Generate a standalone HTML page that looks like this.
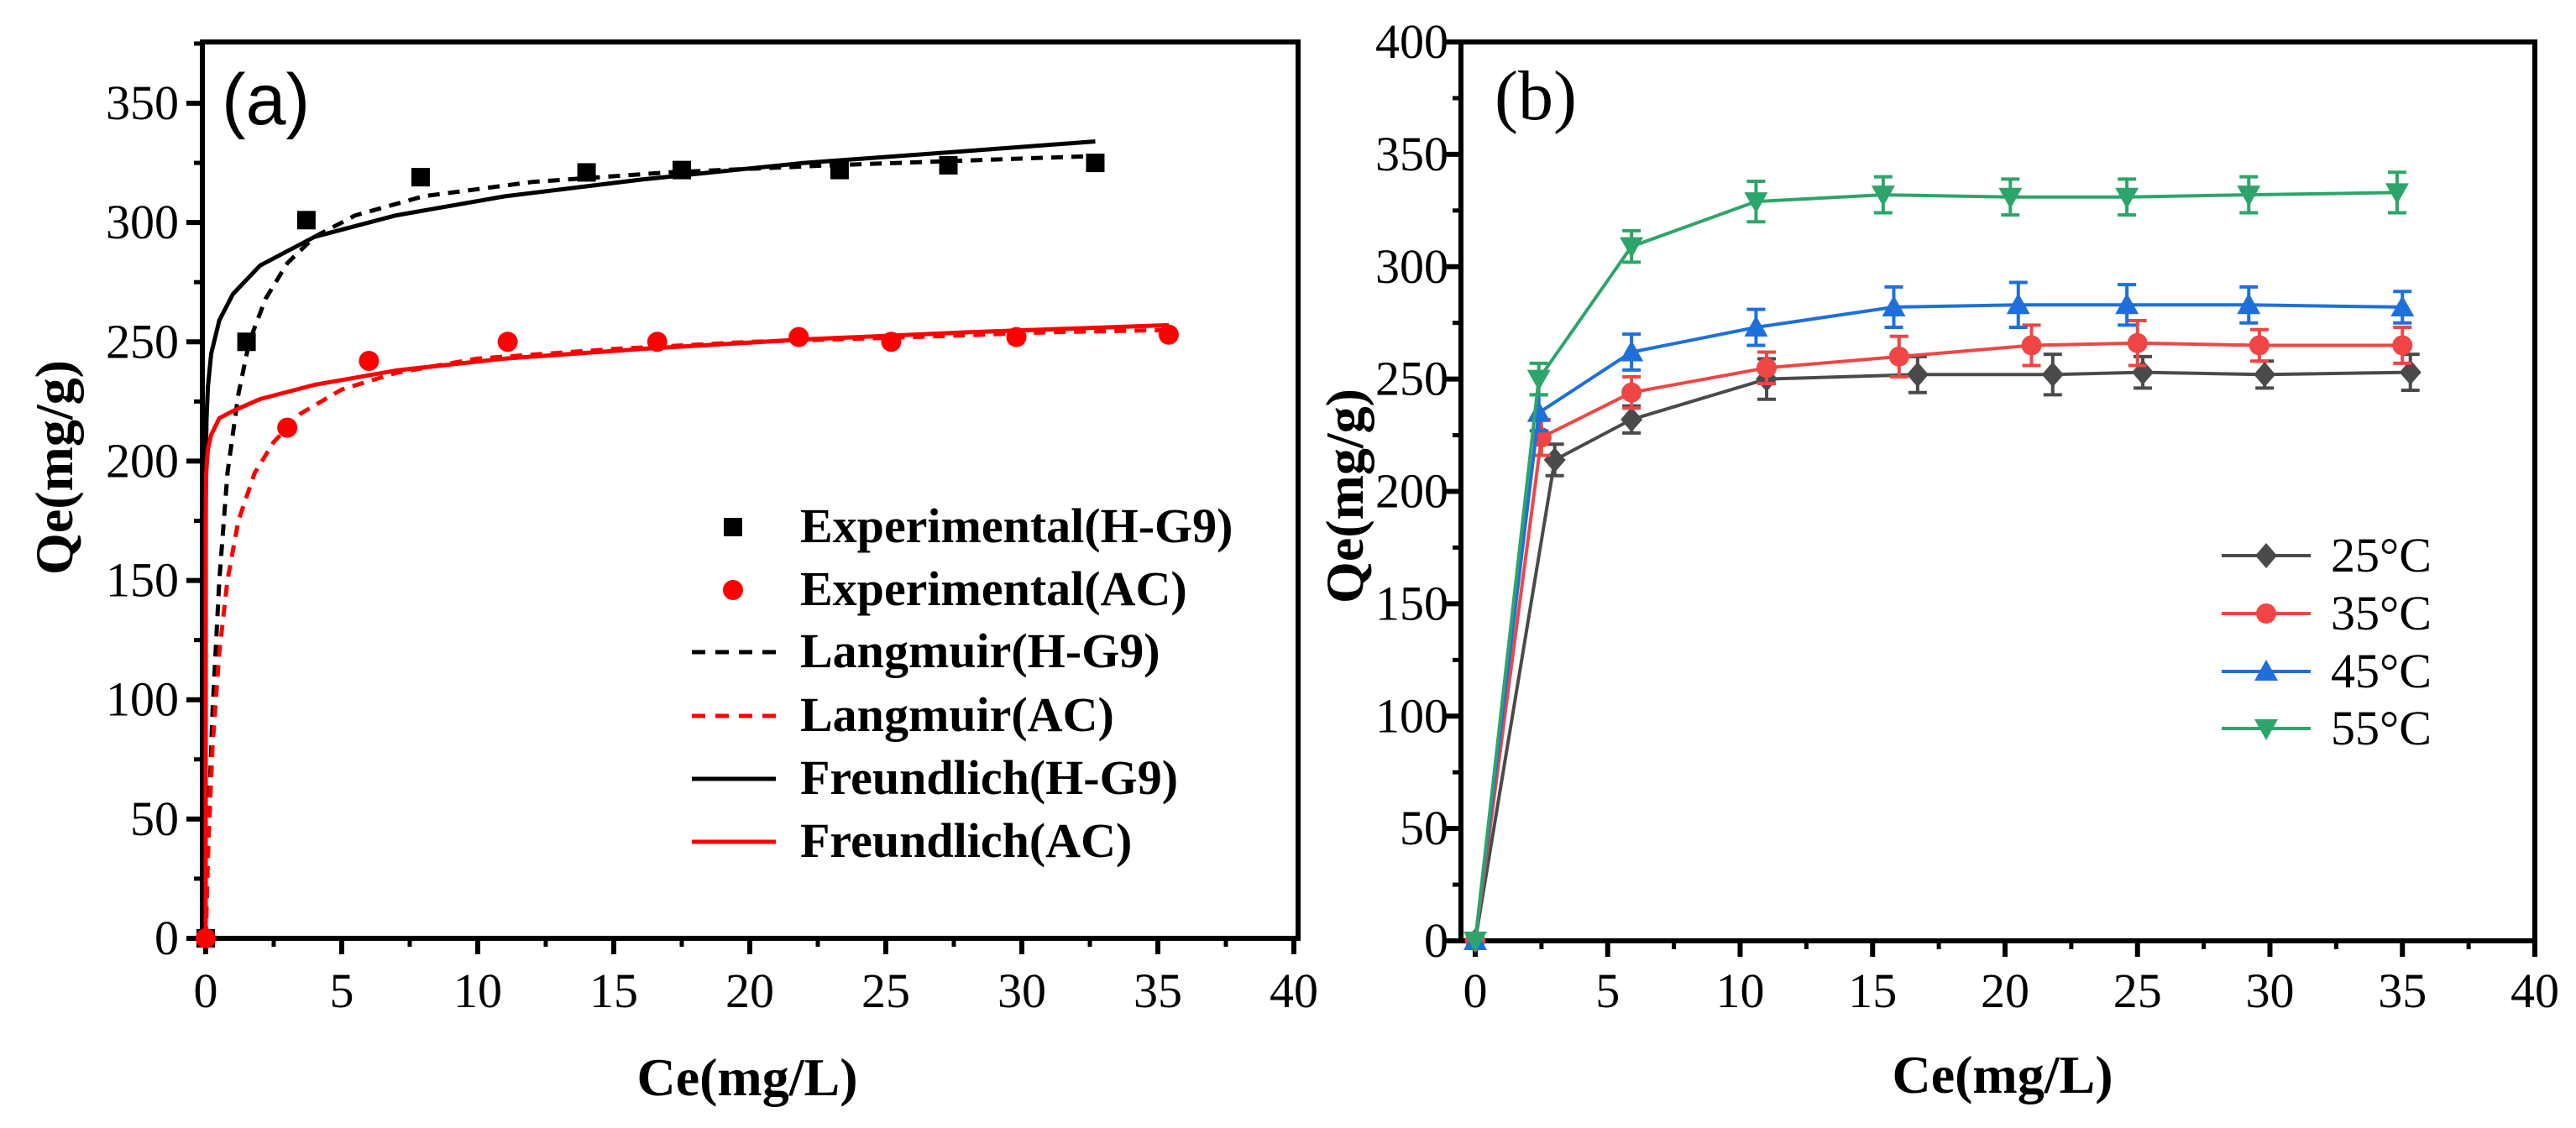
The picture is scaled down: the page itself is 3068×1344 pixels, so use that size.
<!DOCTYPE html>
<html><head><meta charset="utf-8"><style>
html,body{margin:0;padding:0;background:#fff;overflow:hidden;}
svg{display:block;}
text{font-family:"Liberation Serif",serif;}
</style></head><body>
<svg id="fig" width="3068" height="1344" viewBox="0 0 3068 1344" xmlns="http://www.w3.org/2000/svg">
<g id="pa"></g>
<g id="pb"></g>
</svg>
<script>
// ---------- Panel (a) data ----------
const aExpHX=[0,1.5,3.7,7.9,14,17.5,23.3,27.3,32.7];
const aExpHY=[0,250,301,319,321,322,322,324,325];
const aExpAX=[0,3,6,11.1,16.6,21.8,25.2,29.8,35.4];
const aExpAY=[0,214,242,250,250,252,250,252,253];
const aLangHX=[0,0.1,0.25,0.5,0.8,1.2,1.6,2.2,3,4,5.5,8,12,17,23,28,33];
const aLangHY=[0,45,95,150,195,228,250,268,283,294,303,311,317,321,324,326,328];
const aLangAX=[0,0.1,0.25,0.5,0.8,1.2,1.8,2.5,3.5,5,7,10,15,20,26,31,35.5];
const aLangAY=[0,40,80,120,150,175,195,208,220,230,237,243,247,250,252,254,255];
const aFreHX=[0,0.002,0.01,0.03,0.08,0.2,0.5,1,2,4,7,11,16,22,28,32.7];
const aFreHY=[0,185,204,218,231,245,259,270,282,294,303,311,318,325,330,334];
const aFreAX=[0,0.001,0.005,0.02,0.08,0.2,0.5,1,2,4,7,11,16,22,28,35.4];
const aFreAY=[0,176,185,195,205,211,218,221,226,232,238,243,247,251,254,257];
const aXTicks=[0,5,10,15,20,25,30,35,40];
const aYTicks=[0,50,100,150,200,250,300,350];
// ---------- Panel (b) data ----------
const bLabels=["25\u00B0C","35\u00B0C","45\u00B0C","55\u00B0C"];
const b25X=[0,3,5.9,11,16.7,21.8,25.2,29.8,35.3];
const b25Y=[0,214,232,250,252,252,253,252,253];
const b25E=[0,7,6,9,8,9,7,6,8];
const b35X=[0,2.5,5.9,11,16,21,25,29.6,35];
const b35Y=[0,224,244,255,260,265,266,265,265];
const b35E=[0,8,7,7,9,9,10,7,8];
const b45X=[0,2.4,5.9,10.6,15.8,20.5,24.6,29.2,35];
const b45Y=[0,235,262,273,282,283,283,283,282];
const b45E=[0,8,8,8,9,10,9,8,7];
const b55X=[0,2.4,5.9,10.6,15.4,20.2,24.6,29.2,34.8];
const b55Y=[0,250,309,329,332,331,331,332,333];
const b55E=[0,7,7,9,8,8,8,8,9];
const bXTicks=[0,5,10,15,20,25,30,35,40];
const bYTicks=[0,50,100,150,200,250,300,350,400];

const NS="http://www.w3.org/2000/svg";
function mk(parent,tag,attrs,txt){const e=document.createElementNS(NS,tag);for(const k in attrs)e.setAttribute(k,attrs[k]);if(txt!==undefined)e.textContent=txt;parent.appendChild(e);return e;}
function pathFrom(xs,ys,fx,fy){return xs.map((x,i)=>(i?'L':'M')+fx(x).toFixed(1)+' '+fy(ys[i]).toFixed(1)).join(' ');}

// ---------- Panel (a) ----------
const pa=document.getElementById('pa');
const axA={x0:245,x1:1541,xmin:0,xmax:40,y0:1118,y1:123,ymin:0,ymax:350};
function ax(v){return axA.x0+(v-axA.xmin)/(axA.xmax-axA.xmin)*(axA.x1-axA.x0);}
function ay(v){return axA.y0+(v-axA.ymin)/(axA.ymax-axA.ymin)*(axA.y1-axA.y0);}

let fa=mk(pa,'rect',{x:241,y:50,width:1305,height:1068,fill:'none',stroke:'#000','stroke-width':6});


aYTicks.forEach(v=>{
  let t=mk(pa,'line',{x1:222,x2:241,y1:ay(v),y2:ay(v),stroke:'#000','stroke-width':6});
  
  
  let m=mk(pa,'line',{x1:231,x2:241,y1:ay(v+25),y2:ay(v+25),stroke:'#000','stroke-width':5});
  
  
  let l=mk(pa,'text',{x:213,y:ay(v)+19,'font-size':58,'text-anchor':'end'},String(v));
  
  
});
aXTicks.forEach(v=>{
  let t=mk(pa,'line',{x1:ax(v),x2:ax(v),y1:1118,y2:1137,stroke:'#000','stroke-width':6});
  
  
  if(v<40){let m=mk(pa,'line',{x1:ax(v+2.5),x2:ax(v+2.5),y1:1118,y2:1128,stroke:'#000','stroke-width':5});
  
  }
  let l=mk(pa,'text',{x:ax(v),y:1200,'font-size':58,'text-anchor':'middle'},String(v));
  
  
});
let xta=mk(pa,'text',{x:890,y:1305,'font-size':64,'font-weight':'bold','text-anchor':'middle'},'Ce(mg/L)');


let yta=mk(pa,'text',{x:0,y:0,'font-size':64,'font-weight':'bold','text-anchor':'middle',transform:'translate(86,557) rotate(-90)'},'Qe(mg/g)');


let pla=mk(pa,'text',{x:264,y:148,'font-size':86,style:'font-family:"Liberation Sans",sans-serif'},'(a)');



const curvesA=[[aLangHX,aLangHY,'#000','14 10','langmuir-hg9-curve'],[aLangAX,aLangAY,'#f00','14 10','langmuir-ac-curve'],[aFreHX,aFreHY,'#000','','freundlich-hg9-curve'],[aFreAX,aFreAY,'#f00','','freundlich-ac-curve']];
curvesA.forEach(c=>{
  let p=mk(pa,'path',{d:pathFrom(c[0],c[1],ax,ay),fill:'none',stroke:c[2],'stroke-width':5,'stroke-dasharray':c[3],'stroke-linejoin':'round'});
  
  
});
aExpHX.forEach((x,i)=>{
  let s=mk(pa,'rect',{x:ax(x)-11,y:ay(aExpHY[i])-11,width:22,height:22,fill:'#000'});
  
  
});
aExpAX.forEach((x,i)=>{
  let s=mk(pa,'circle',{cx:ax(x),cy:ay(aExpAY[i]),r:12,fill:'#f00'});
  
  
});
const legA=[['Experimental(H-G9)','sq'],['Experimental(AC)','ci'],['Langmuir(H-G9)','dk'],['Langmuir(AC)','dr'],['Freundlich(H-G9)','sk'],['Freundlich(AC)','sr']];
const legAY=[628,703,777,853,928,1003];
const lga=mk(pa,'g',{});


legA.forEach((e,i)=>{
  const y=legAY[i];
  if(e[1]=='sq'){mk(lga,'rect',{x:862,y:y-11,width:22,height:22,fill:'#000'});}
  else if(e[1]=='ci'){mk(lga,'circle',{cx:873,cy:y,r:12,fill:'#f00'});}
  else{const col=(e[1][1]=='k')?'#000':'#f00';mk(lga,'line',{x1:824,x2:924,y1:y,y2:y,stroke:col,'stroke-width':5,'stroke-dasharray':e[1][0]=='d'?'16 12':''});}
  let t=mk(lga,'text',{x:953,y:y+18,'font-size':58,'font-weight':'bold'},e[0]);
  
  
});

// ---------- Panel (b) ----------
const pb=document.getElementById('pb');
const axB={x0:1757,x1:3019,xmin:0,xmax:40,y0:1121,y1:50,ymin:0,ymax:400};
function bx(v){return axB.x0+(v-axB.xmin)/(axB.xmax-axB.xmin)*(axB.x1-axB.x0);}
function by(v){return axB.y0+(v-axB.ymin)/(axB.ymax-axB.ymin)*(axB.y1-axB.y0);}
let fb=mk(pb,'rect',{x:1740,y:50,width:1279,height:1071,fill:'none',stroke:'#000','stroke-width':6});


bYTicks.forEach(v=>{
  let t=mk(pb,'line',{x1:1721,x2:1740,y1:by(v),y2:by(v),stroke:'#000','stroke-width':6});
  
  
  if(v<400){let m=mk(pb,'line',{x1:1730,x2:1740,y1:by(v+25),y2:by(v+25),stroke:'#000','stroke-width':5});
  
  }
  let l=mk(pb,'text',{x:1725,y:by(v)+19,'font-size':58,'text-anchor':'end'},String(v));
  
  
});
bXTicks.forEach(v=>{
  let t=mk(pb,'line',{x1:bx(v),x2:bx(v),y1:1121,y2:1140,stroke:'#000','stroke-width':6});
  
  
  if(v<40){let m=mk(pb,'line',{x1:bx(v+2.5),x2:bx(v+2.5),y1:1121,y2:1131,stroke:'#000','stroke-width':5});
  
  }
  let l=mk(pb,'text',{x:bx(v),y:1200,'font-size':58,'text-anchor':'middle'},String(v));
  
  
});
let xtb=mk(pb,'text',{x:2385,y:1302,'font-size':64,'font-weight':'bold','text-anchor':'middle'},'Ce(mg/L)');


let ytb=mk(pb,'text',{x:0,y:0,'font-size':64,'font-weight':'bold','text-anchor':'middle',transform:'translate(1623,591) rotate(-90)'},'Qe(mg/g)');


let plb=mk(pb,'text',{x:1780,y:142,'font-size':84},'(b)');



const seriesB=[[b25X,b25Y,b25E,'#4a4a4a','dia'],[b35X,b35Y,b35E,'#f04545','cir'],[b45X,b45Y,b45E,'#1e6fdc','up'],[b55X,b55Y,b55E,'#2da56a','down']];
function marker(g,shape,cx,cy,col){
  if(shape=='dia')return mk(g,'polygon',{points:`${cx},${cy-15} ${cx+13},${cy} ${cx},${cy+15} ${cx-13},${cy}`,fill:col});
  if(shape=='cir')return mk(g,'circle',{cx:cx,cy:cy,r:12,fill:col});
  if(shape=='up')return mk(g,'polygon',{points:`${cx},${cy-14} ${cx+14},${cy+11} ${cx-14},${cy+11}`,fill:col});
  return mk(g,'polygon',{points:`${cx},${cy+14} ${cx+14},${cy-11} ${cx-14},${cy-11}`,fill:col});
}
seriesB.forEach((s,k)=>{
  const g=mk(pb,'g',{});
  
  
  mk(g,'path',{d:pathFrom(s[0],s[1],bx,by),fill:'none',stroke:s[3],'stroke-width':4});
  s[0].forEach((x,i)=>{
    const cx=bx(x),e=s[2][i];
    if(e>0){
      mk(g,'line',{x1:cx,x2:cx,y1:by(s[1][i]+e),y2:by(s[1][i]-e),stroke:s[3],'stroke-width':4});
      mk(g,'line',{x1:cx-11,x2:cx+11,y1:by(s[1][i]+e),y2:by(s[1][i]+e),stroke:s[3],'stroke-width':4});
      mk(g,'line',{x1:cx-11,x2:cx+11,y1:by(s[1][i]-e),y2:by(s[1][i]-e),stroke:s[3],'stroke-width':4});
    }
    const m=marker(g,s[4],cx,by(s[1][i]),s[3]);
    
    
  });
});
const legBY=[662,731,800,868];
const lgb=mk(pb,'g',{});


seriesB.forEach((s,k)=>{
  const y=legBY[k];
  mk(lgb,'line',{x1:2646,x2:2752,y1:y,y2:y,stroke:s[3],'stroke-width':4});
  marker(lgb,s[4],2699,y,s[3]);
  let t=mk(lgb,'text',{x:2776,y:y+19,'font-size':58},bLabels[k]);
  
  
});
</script>
</body></html>
